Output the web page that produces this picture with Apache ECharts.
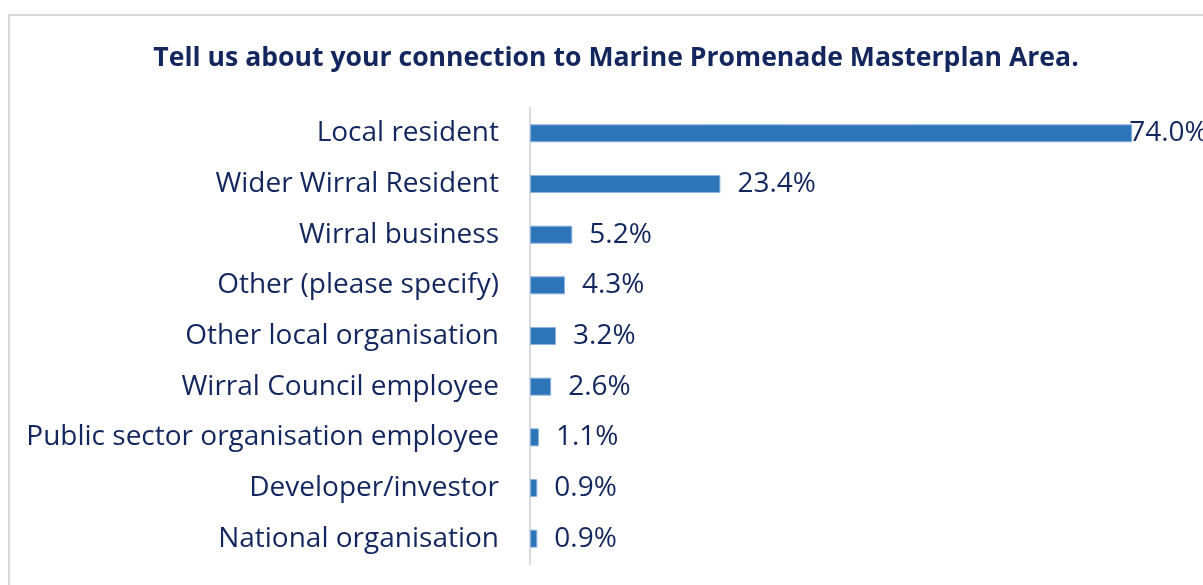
<!DOCTYPE html>
<html lang="en">
<head>
<meta charset="UTF-8">
<title>Connection to Marine Promenade Masterplan Area</title>
<style type="text/css">
  html, body { margin: 0; padding: 0; background: #fff; }
  #chart { width: 1203px; height: 585px; }
</style>
</head>
<body>
<div id="chart"></div>
<script src="https://cdn.jsdelivr.net/npm/echarts@6/dist/echarts.min.js"></script>
<script type="text/javascript">
// categories, top to bottom as in the picture
var categories = [
  'Local resident',
  'Wider Wirral Resident',
  'Wirral business',
  'Other (please specify)',
  'Other local organisation',
  'Wirral Council employee',
  'Public sector organisation employee',
  'Developer/investor',
  'National organisation'
];
// percentage of respondents
var values = [74.0, 23.4, 5.2, 4.3, 3.2, 2.6, 1.1, 0.9, 0.9];

var navy = '#13275e';
var chart = echarts.init(document.getElementById('chart'));

// category axis runs bottom-up, so reverse for display
var cats = categories.slice().reverse();
var data = values.slice().reverse().map(function (v, i) {
  var item = { value: v };
  // the largest bar's label sits over the bar end, as in the original
  if (v === 74.0) item.label = { distance: -3 };
  return item;
});

var option = {
  animation: false,
  title: {
    text: 'Tell us about your connection to Marine Promenade Masterplan Area.',
    left: 611,
    textAlign: 'center',
    top: 40,
    textStyle: {
      fontFamily: 'Open Sans',
      fontWeight: 'bold',
      fontSize: 26.6,
      color: navy
    }
  },
  graphic: [{
    type: 'rect',
    silent: true,
    shape: { x: 9, y: 15, width: 1400, height: 800 },
    style: { fill: 'none', stroke: '#d9d9d9', lineWidth: 2 }
  }],
  grid: { left: 530, right: 22, top: 108, bottom: 21 },
  xAxis: {
    type: 'value',
    min: 0,
    max: 80,
    show: false
  },
  yAxis: {
    type: 'category',
    data: cats,
    axisLine: { show: true, lineStyle: { color: '#d9d9d9', width: 2 } },
    axisTick: { show: false },
    axisLabel: {
      margin: 31,
      fontFamily: 'Open Sans',
      fontSize: 28,
      color: navy
    }
  },
  series: [{
    type: 'bar',
    data: data,
    barWidth: 18,
    itemStyle: { color: '#2e74b8', borderColor: '#8db4e2', borderWidth: 1 },
    label: {
      show: true,
      position: 'right',
      distance: 17,
      fontFamily: 'Open Sans',
      fontSize: 28,
      color: navy,
      formatter: function (p) { return p.value.toFixed(1) + '%'; }
    }
  }]
};
chart.setOption(option);
</script>
</body>
</html>
